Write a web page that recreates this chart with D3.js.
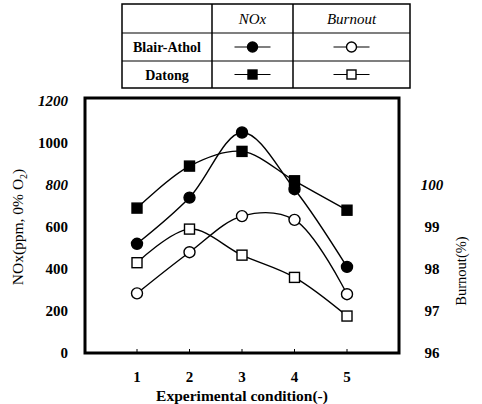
<!DOCTYPE html>
<html>
<head>
<meta charset="utf-8">
<script src="https://cdn.jsdelivr.net/npm/d3@7"></script>
<style>
  body { margin: 0; background: #fff; }
  svg text { font-family: "Liberation Serif", "Times New Roman", "DejaVu Serif", serif; }
</style>
</head>
<body>
<svg id="chart" width="482" height="404"></svg>
<script>
// Data
const conditions = [1, 2, 3, 4, 5];
const noxBlairAthol = [520, 740, 1050, 780, 410];
const noxDatong = [690, 890, 960, 820, 680];
const burnoutBlairAthol = [97.42, 98.4, 99.26, 99.17, 97.4];
const burnoutDatong = [98.15, 98.95, 98.33, 97.8, 96.88];

const noxTicks = [0, 200, 400, 600, 800, 1000, 1200];
const burnoutTicks = [96, 97, 98, 99, 100];

const svg = d3.select('#chart');

// plot frame
const frame = { left: 85, right: 399, top: 98, bottom: 353 };

const x = d3.scaleLinear().domain([1, 5]).range([137, 347]);
const yL = d3.scaleLinear().domain([0, 1200]).range([353, 101]);
// right axis: 96 aligned with 0 ppm, 100 aligned with 800 ppm
const yR = d3.scaleLinear().domain([96, 102]).range([353, 101]);

// frame box
svg.append('rect')
    .attr('x', frame.left)
    .attr('y', frame.top)
    .attr('width', frame.right - frame.left)
    .attr('height', frame.bottom - frame.top)
    .attr('fill', 'none')
    .attr('stroke', '#000')
    .attr('stroke-width', 3);

// x ticks (inward) and labels
const xAxis = svg.append('g');
xAxis.selectAll('line')
    .data(conditions)
    .enter()
    .append('line')
    .attr('x1', d => x(d))
    .attr('x2', d => x(d))
    .attr('y1', frame.bottom)
    .attr('y2', frame.bottom - 4)
    .attr('stroke', '#000')
    .attr('stroke-width', 1);
xAxis.selectAll('text')
    .data(conditions)
    .enter()
    .append('text')
    .attr('x', d => x(d))
    .attr('y', 382)
    .attr('text-anchor', 'middle')
    .attr('font-size', 15)
    .attr('font-weight', 'bold')
    .text(d => d);

svg.append('text')
    .attr('x', 242)
    .attr('y', 401)
    .attr('text-anchor', 'middle')
    .attr('font-size', 15.5)
    .attr('font-weight', 'bold')
    .text('Experimental condition(-)');

// left axis labels
svg.append('g').selectAll('text')
    .data(noxTicks)
    .enter()
    .append('text')
    .attr('x', 68)
    .attr('y', d => yL(d) + 5)
    .attr('text-anchor', 'end')
    .attr('font-size', 15)
    .attr('font-weight', 'bold')
    .attr('font-style', d => (d === 1200 || d === 800) ? 'italic' : 'normal')
    .text(d => d);

const leftTitle = svg.append('text')
    .attr('transform', 'translate(23,227) rotate(-90)')
    .attr('text-anchor', 'middle')
    .attr('font-size', 15.5);
leftTitle.append('tspan').text('NOx(ppm, 0% O');
leftTitle.append('tspan').attr('font-size', 10).attr('dy', 4).text('2');
leftTitle.append('tspan').attr('dy', -4).text(')');

// right axis labels
svg.append('g').selectAll('text')
    .data(burnoutTicks)
    .enter()
    .append('text')
    .attr('x', 432)
    .attr('y', d => yR(d) + 5)
    .attr('text-anchor', 'middle')
    .attr('font-size', 15)
    .attr('font-weight', 'bold')
    .attr('font-style', d => d === 100 ? 'italic' : 'normal')
    .text(d => d);

svg.append('text')
    .attr('transform', 'translate(466,271) rotate(-90)')
    .attr('text-anchor', 'middle')
    .attr('font-size', 14.5)
    .text('Burnout(%)');

// series
const series = [
    { values: noxBlairAthol, y: yL, shape: 'circle', filled: true },
    { values: noxDatong, y: yL, shape: 'square', filled: true },
    { values: burnoutBlairAthol, y: yR, shape: 'circle', filled: false },
    { values: burnoutDatong, y: yR, shape: 'square', filled: false }
];

const line = d3.line().curve(d3.curveCatmullRom.alpha(0.5));

function drawMarker(g, shape, filled, cx, cy, size) {
    const r = size || 5.5;
    if (shape === 'circle') {
        g.append('circle')
            .attr('cx', cx).attr('cy', cy).attr('r', r)
            .attr('fill', filled ? '#000' : '#fff')
            .attr('stroke', '#000').attr('stroke-width', 1.4);
    } else {
        g.append('rect')
            .attr('x', cx - r + 0.5).attr('y', cy - r + 0.5)
            .attr('width', 2 * r - 1).attr('height', 2 * r - 1)
            .attr('fill', filled ? '#000' : '#fff')
            .attr('stroke', '#000').attr('stroke-width', 1.4);
    }
}

series.forEach(s => {
    const pts = s.values.map((v, i) => [x(conditions[i]), s.y(v)]);
    svg.append('path')
        .attr('d', line(pts))
        .attr('fill', 'none')
        .attr('stroke', '#000')
        .attr('stroke-width', 1.4);
});
series.forEach(s => {
    const g = svg.append('g');
    s.values.forEach((v, i) => drawMarker(g, s.shape, s.filled, x(conditions[i]), s.y(v)));
});

// legend table
const table = { left: 122, right: 410, cols: [122, 212, 293, 410], rows: [4, 33, 61, 88] };
const tg = svg.append('g');
tg.append('rect')
    .attr('x', table.left).attr('y', table.rows[0])
    .attr('width', table.right - table.left)
    .attr('height', table.rows[3] - table.rows[0])
    .attr('fill', 'none').attr('stroke', '#000').attr('stroke-width', 1.5);
table.cols.slice(1, 3).forEach(cx => {
    tg.append('line').attr('x1', cx).attr('x2', cx)
        .attr('y1', table.rows[0]).attr('y2', table.rows[3])
        .attr('stroke', '#000').attr('stroke-width', 1.5);
});
table.rows.slice(1, 3).forEach(ry => {
    tg.append('line').attr('x1', table.left).attr('x2', table.right)
        .attr('y1', ry).attr('y2', ry)
        .attr('stroke', '#000').attr('stroke-width', 1.2);
});

const headers = ['NOx', 'Burnout'];
headers.forEach((h, i) => {
    tg.append('text')
        .attr('x', (table.cols[i + 1] + table.cols[i + 2]) / 2)
        .attr('y', (table.rows[0] + table.rows[1]) / 2 + 5)
        .attr('text-anchor', 'middle')
        .attr('font-size', 15)
        .attr('font-style', 'italic')
        .text(h);
});

const coals = ['Blair-Athol', 'Datong'];
coals.forEach((c, r) => {
    const cy = (table.rows[r + 1] + table.rows[r + 2]) / 2;
    tg.append('text')
        .attr('x', (table.cols[0] + table.cols[1]) / 2)
        .attr('y', cy + 5)
        .attr('text-anchor', 'middle')
        .attr('font-size', 14)
        .attr('font-weight', 'bold')
        .text(c);
    [0, 1].forEach(k => {
        const cx = (table.cols[k + 1] + table.cols[k + 2]) / 2;
        tg.append('line')
            .attr('x1', cx - 18).attr('x2', cx + 18)
            .attr('y1', cy).attr('y2', cy)
            .attr('stroke', '#000').attr('stroke-width', 1.2);
        drawMarker(tg, r === 0 ? 'circle' : 'square', k === 0, cx, cy, 5);
    });
});
</script>
</body>
</html>
